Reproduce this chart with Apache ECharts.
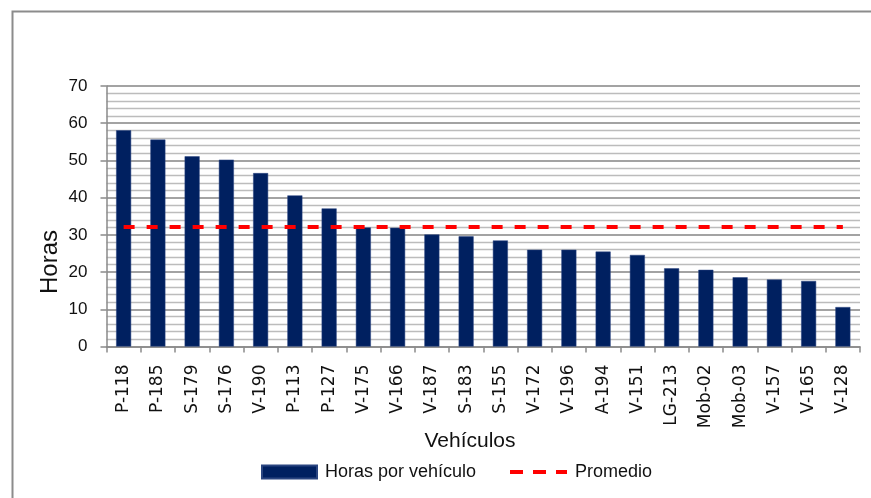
<!DOCTYPE html>
<html>
<head>
<meta charset="utf-8">
<title>Horas por vehículo</title>
<script src="https://cdn.jsdelivr.net/npm/echarts@6/dist/echarts.min.js"></script>
<style>
    html, body { margin: 0; padding: 0; background: #fff; }
    #chart { width: 871px; height: 498px; }
</style>
</head>
<body>
<div id="chart"></div>
<script>
// valores
const vehiculos = ['P-118', 'P-185', 'S-179', 'S-176', 'V-190', 'P-113', 'P-127', 'V-175', 'V-166', 'V-187', 'S-183',
    'S-155', 'V-172', 'V-196', 'A-194', 'V-151', 'LG-213', 'Mob-02', 'Mob-03', 'V-157', 'V-165', 'V-128'];
const horas = [58.1, 55.6, 51.1, 50.2, 46.6, 40.6, 37.1, 32.0, 31.9, 30.1, 29.6,
    28.5, 26.0, 26.0, 25.5, 24.6, 21.0, 20.6, 18.6, 18.0, 17.6, 10.6];
const promedio = [32.1, 32.1, 32.1, 32.1, 32.1, 32.1, 32.1, 32.1, 32.1, 32.1, 32.1,
    32.1, 32.1, 32.1, 32.1, 32.1, 32.1, 32.1, 32.1, 32.1, 32.1, 32.1];
const yTicks = [0, 10, 20, 30, 40, 50, 60, 70];

const font = 'Liberation Sans, Arial, sans-serif';
const myChart = echarts.init(document.getElementById('chart'));

const legendText = {
    fontFamily: font,
    fontSize: 18,
    color: '#111',
    padding: [3, 0, 0, 3]
};

const option = {
    animation: false,
    backgroundColor: '#fff',
    grid: {
        left: 106.5,
        right: 11,
        top: 86,
        bottom: 151.5
    },
    legend: [
        {
            left: 256,
            top: 458,
            itemWidth: 55,
            itemHeight: 13,
            textStyle: legendText,
            data: [{name: 'Horas por vehículo', icon: 'rect'}]
        },
        {
            left: 505,
            top: 458,
            itemWidth: 57,
            itemHeight: 4,
            textStyle: legendText,
            data: [{
                name: 'Promedio',
                icon: 'path://M0,0h13v4h-13z M23,0h13v4h-13z M46,0h11v4h-11z',
                itemStyle: {color: '#ff0000'}
            }]
        }
    ],
    xAxis: {
        type: 'category',
        data: vehiculos,
        boundaryGap: true,
        axisLine: {lineStyle: {color: '#8a8a8a', width: 1.5}},
        axisTick: {show: true, interval: 0, length: 6, lineStyle: {color: '#8a8a8a', width: 1.5}},
        axisLabel: {
            interval: 0,
            rotate: 90,
            margin: 18,
            fontFamily: 'DejaVu Sans, sans-serif',
            fontSize: 17,
            color: '#111'
        },
        splitLine: {show: false}
    },
    yAxis: {
        type: 'value',
        min: yTicks[0],
        max: yTicks[yTicks.length - 1],
        interval: 10,
        axisLine: {show: true, lineStyle: {color: '#8a8a8a', width: 1.5}},
        axisTick: {show: true, length: 6, lineStyle: {color: '#8a8a8a', width: 1.5}},
        axisLabel: {
            margin: 19,
            fontFamily: font,
            fontSize: 17,
            color: '#111'
        },
        splitLine: {show: true, lineStyle: {color: '#858585', width: 1.5}},
        minorTick: {show: false, splitNumber: 5},
        minorSplitLine: {show: true, lineStyle: {color: '#bcbcbc', width: 1.3}}
    },
    series: [
        {
            name: 'Horas por vehículo',
            type: 'bar',
            data: horas,
            barWidth: 15,
            itemStyle: {color: '#002060', borderColor: '#2a4580', borderWidth: 0.5},
            z: 2
        },
        {
            name: 'Promedio',
            type: 'line',
            data: promedio,
            symbol: 'none',
            lineStyle: {color: '#ff0000', width: 4, type: [11, 12]},
            itemStyle: {color: '#ff0000'},
            z: 3
        }
    ],
    graphic: [
        {
            type: 'rect',
            shape: {x: 12.5, y: 11.5, width: 900, height: 520},
            style: {fill: 'none', stroke: '#8c8c8c', lineWidth: 2},
            silent: true
        },
        {
            type: 'text',
            x: 50,
            y: 262,
            rotation: Math.PI / 2,
            style: {
                text: 'Horas',
                fontFamily: font,
                fontSize: 24,
                fill: '#111',
                align: 'center',
                verticalAlign: 'middle'
            }
        },
        {
            type: 'text',
            x: 470,
            y: 441,
            style: {
                text: 'Vehículos',
                fontFamily: font,
                fontSize: 21,
                fill: '#111',
                align: 'center',
                verticalAlign: 'middle'
            }
        }
    ]
};

myChart.setOption(option);
</script>
</body>
</html>
